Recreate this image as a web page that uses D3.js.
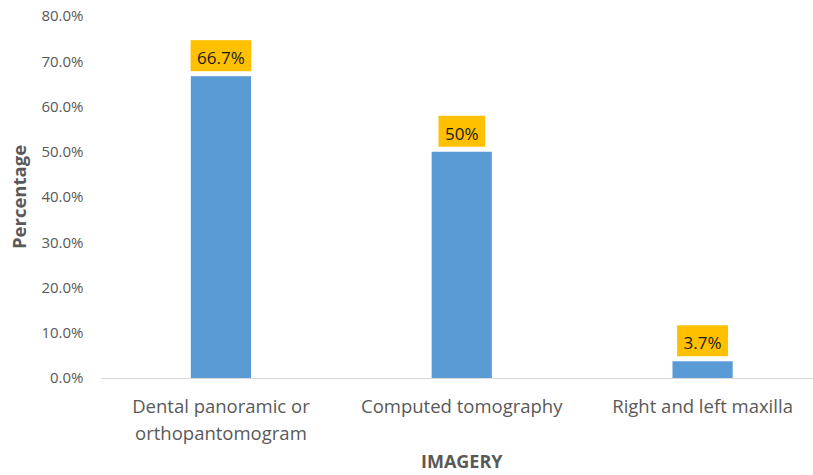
<!DOCTYPE html>
<html>
<head>
<meta charset="utf-8">
<script src="https://cdn.jsdelivr.net/npm/d3@7"></script>
<style>
  html, body { margin: 0; padding: 0; background: #fff; }
  svg { display: block; font-family: "Open Sans", "Noto Sans", sans-serif; }
</style>
</head>
<body>
<svg id="chart" width="813" height="475"></svg>
<script>
// Imaging modality usage, percentage of cases
const categories = [
  ["Dental panoramic or", "orthopantomogram"],
  ["Computed tomography"],
  ["Right and left maxilla"]
];
const categoryKeys = ["panoramic", "ct", "maxilla"];
const values = [66.7, 50, 3.7];
const valueLabels = ["66.7%", "50%", "3.7%"];
const yTicks = [0, 10, 20, 30, 40, 50, 60, 70, 80];

const svg = d3.select("#chart");
const W = 813, H = 475;
const margin = { left: 100.5, right: -10, top: 16, bottom: 97 };

const x = d3.scaleBand()
  .domain(categoryKeys)
  .range([margin.left, W - margin.right])
  .paddingInner(0.75)
  .paddingOuter(0.375);

const y = d3.scaleLinear()
  .domain([0, 80])
  .range([H - margin.bottom, margin.top]);

// Y axis labels (no axis line, no gridlines)
const yAxis = d3.axisLeft(y)
  .tickValues(yTicks)
  .tickFormat(d => d.toFixed(1) + "%")
  .tickSize(0)
  .tickPadding(17);

const gy = svg.append("g")
  .attr("transform", `translate(${margin.left},0)`)
  .call(yAxis);
gy.select(".domain").remove();
gy.selectAll("text")
  .attr("fill", "#595959")
  .style("font-size", "15px")
  .style("font-family", "'Open Sans', sans-serif");

// Bars
svg.append("g").selectAll("rect")
  .data(values)
  .join("rect")
  .attr("x", (d, i) => x(categoryKeys[i]))
  .attr("width", x.bandwidth())
  .attr("y", d => y(d))
  .attr("height", d => y(0) - y(d))
  .attr("fill", "#5b9bd5");

// Baseline
const gx = svg.append("g")
  .attr("transform", `translate(0,${y(0)})`)
  .call(d3.axisBottom(x).tickSize(0).tickFormat(""));
gx.select(".domain").attr("stroke", "#d9d9d9").attr("stroke-width", 1);

// Category labels (multi-line)
const catG = svg.append("g");
categories.forEach((lines, i) => {
  const cx = x(categoryKeys[i]) + x.bandwidth() / 2;
  const t = catG.append("text")
    .attr("x", cx)
    .attr("y", y(0) + 35)
    .attr("text-anchor", "middle")
    .attr("fill", "#595959")
    .style("font-size", "18.5px");
  lines.forEach((ln, j) => {
    t.append("tspan")
      .attr("x", cx)
      .attr("dy", j === 0 ? 0 : 27)
      .text(ln);
  });
});

// Value labels with highlighted boxes
const lab = svg.append("g").selectAll("g")
  .data(values)
  .join("g")
  .attr("transform", (d, i) =>
    `translate(${x(categoryKeys[i]) + x.bandwidth() / 2},${y(d)})`);

lab.append("text")
  .attr("text-anchor", "middle")
  .attr("y", -12)
  .attr("fill", "#1a1a1a")
  .style("font-size", "17px")
  .text((d, i) => valueLabels[i]);

lab.each(function () {
  const g = d3.select(this);
  const bb = g.select("text").node().getBBox();
  g.insert("rect", "text")
    .attr("x", -(bb.width + 13) / 2)
    .attr("width", bb.width + 13)
    .attr("y", -36)
    .attr("height", 31)
    .attr("fill", "#ffc000");
});

// Axis titles
svg.append("text")
  .attr("x", x(categoryKeys[1]) + x.bandwidth() / 2)
  .attr("y", 468)
  .attr("text-anchor", "middle")
  .attr("fill", "#595959")
  .style("font-size", "18px")
  .style("font-weight", "bold")
  .text("IMAGERY");

svg.append("text")
  .attr("transform", `translate(26,${(y(0) + y(80)) / 2}) rotate(-90)`)
  .attr("text-anchor", "middle")
  .attr("fill", "#595959")
  .style("font-size", "18.5px")
  .style("font-weight", "bold")
  .text("Percentage");
</script>
</body>
</html>
